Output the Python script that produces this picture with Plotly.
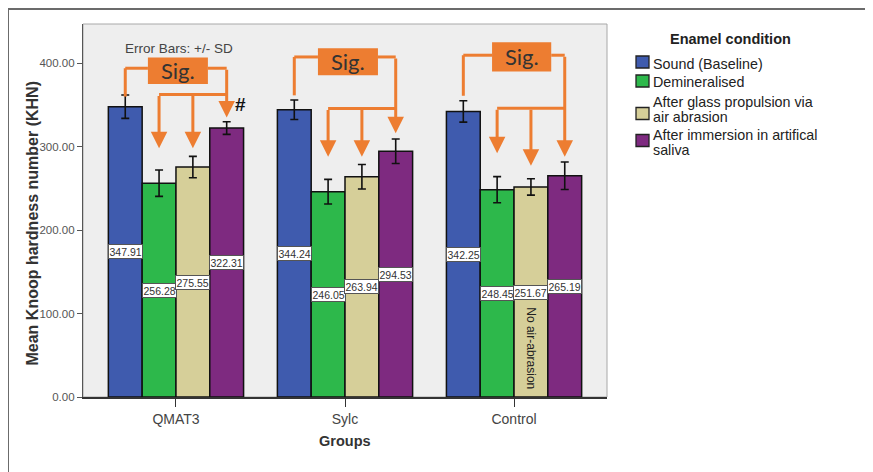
import plotly.graph_objects as go

# ---------------- data ----------------
groups = ["QMAT3", "Sylc", "Control"]
legend_labels = [
    ["Sound (Baseline)"],
    ["Demineralised"],
    ["After glass propulsion via", "air abrasion"],
    ["After immersion in artifical", "saliva"],
]
sound = [347.91, 344.24, 342.25]
demineralised = [256.28, 246.05, 248.45]
glass_propulsion = [275.55, 263.94, 251.67]
saliva = [322.31, 294.53, 265.19]
sound_sd = [14.0, 11.6, 12.8]
demineralised_sd = [15.8, 14.7, 15.6]
glass_propulsion_sd = [12.8, 14.7, 9.8]
saliva_sd = [7.6, 14.7, 16.5]
y_tick_vals = [0, 100, 200, 300, 400]

series = [sound, demineralised, glass_propulsion, saliva]
series_sd = [sound_sd, demineralised_sd, glass_propulsion_sd, saliva_sd]
colors = ["#3F5BAE", "#2DB84B", "#D6CF99", "#7E2A80"]
offsets = [-0.3, -0.1, 0.1, 0.3]

# ---------------- geometry helpers (page px; page body has 8px margin) ----------------
PAGE_W, PAGE_H = 873, 472
BODY = 8
FW, FH = PAGE_W - BODY, PAGE_H - BODY
L, R, T, B = 83, 607, 24, 397
W, H = R - L, B - T
YMAX = 447


def px(x):
    return (x - L) / W


def py(y):
    return (B - y) / H


fig = go.Figure()
for k in range(4):
    fig.add_trace(go.Bar(
        x=groups, y=series[k], name=" ".join(legend_labels[k]),
        marker=dict(color=colors[k], line=dict(color="#111111", width=1.5)),
        error_y=dict(type="data", array=series_sd[k], color="#111111",
                     thickness=1.6, width=4),
        showlegend=False,
    ))

shapes = []
annotations = []

# outer frame
shapes.append(dict(type="rect", xref="paper", yref="paper",
                   x0=px(8), x1=px(PAGE_W + 30), y0=py(PAGE_H + 30), y1=py(9),
                   line=dict(color="#6B6B6B", width=2), layer="below"))
# plot frame
shapes.append(dict(type="rect", xref="paper", yref="paper",
                   x0=0, x1=1, y0=0, y1=1,
                   line=dict(color="#A8A8A8", width=1), layer="below"))

# value labels at mid-bar
for i in range(len(groups)):
    for k in range(4):
        v = series[k][i]
        annotations.append(dict(
            x=i + offsets[k], y=v / 2, xref="x", yref="y",
            xanchor="center", yanchor="middle",
            text=f"{v:.2f}", showarrow=False,
            font=dict(family="Liberation Sans, Arial", size=10.5, color="#333333"),
            bgcolor="white", bordercolor="#555555", borderwidth=1, borderpad=0.5,
        ))

# significance annotations (decorations)
ORANGE = "#ED7D31"
sig_cfg = [
    dict(bx0=-0.166, bx1=0.189, by0=375, by1=407, conn=394, left_end=360,
         right_tip=335, hbar=362.5, tips=[298, 298]),
    dict(bx0=-0.160, bx1=0.195, by0=385.6, by1=418, conn=407.5, left_end=361.5,
         right_tip=316, hbar=345.7, tips=[288, 288]),
    dict(bx0=-0.130, bx1=0.220, by0=390, by1=425, conn=409.6, left_end=361,
         right_tip=288, hbar=346, tips=[292, 277]),
]
for i, c in enumerate(sig_cfg):
    ln = dict(color=ORANGE, width=3)
    xl, xr = i + offsets[0], i + offsets[3]
    shapes.append(dict(type="rect", xref="x", yref="y",
                       x0=i + c["bx0"], x1=i + c["bx1"], y0=c["by0"], y1=c["by1"],
                       fillcolor=ORANGE, line=dict(width=0), layer="above"))
    annotations.append(dict(x=i + (c["bx0"] + c["bx1"]) / 2, y=(c["by0"] + c["by1"]) / 2,
                            xref="x", yref="y", xanchor="center", yanchor="middle",
                            text="Sig.", showarrow=False,
                            font=dict(family="Lato, Open Sans", size=22, color="#333333")))
    shapes.append(dict(type="line", xref="x", yref="y", x0=xl, x1=i + c["bx0"],
                       y0=c["conn"], y1=c["conn"], line=ln, layer="above"))
    shapes.append(dict(type="line", xref="x", yref="y", x0=i + c["bx1"], x1=xr,
                       y0=c["conn"], y1=c["conn"], line=ln, layer="above"))
    shapes.append(dict(type="line", xref="x", yref="y", x0=xl, x1=xl,
                       y0=c["conn"], y1=c["left_end"], line=ln, layer="above"))
    shapes.append(dict(type="line", xref="x", yref="y", x0=i + offsets[1], x1=xr,
                       y0=c["hbar"], y1=c["hbar"], line=ln, layer="above"))
    arrows = [(xr, c["conn"], c["right_tip"]),
              (i + offsets[1], c["hbar"], c["tips"][0]),
              (i + offsets[2], c["hbar"], c["tips"][1])]
    for ax_, y_start, y_tip in arrows:
        annotations.append(dict(x=ax_, y=y_tip, ax=ax_, ay=y_start,
                                xref="x", yref="y", axref="x", ayref="y",
                                text="", showarrow=True, arrowhead=2,
                                arrowsize=1.1, arrowwidth=3, arrowcolor=ORANGE,
                                standoff=0))

# '#' marker
annotations.append(dict(x=0.38, y=350, xref="x", yref="y", text="<b>#</b>",
                        xanchor="center", yanchor="middle", showarrow=False,
                        font=dict(family="Liberation Sans, Arial", size=19, color="#111111")))
# error bar note
annotations.append(dict(x=0.02, y=418, xref="x", yref="y", text="Error Bars: +/- SD",
                        xanchor="center", yanchor="middle", showarrow=False,
                        font=dict(family="Liberation Sans, Arial", size=13.5, color="#444444")))
# no air-abrasion note
annotations.append(dict(x=2 + offsets[2], y=58.5, xref="x", yref="y",
                        xanchor="center", yanchor="middle",
                        text="No air-abrasion", textangle=90, showarrow=False,
                        font=dict(family="Liberation Sans, Arial", size=12, color="#222222")))

# axis titles
annotations.append(dict(x=px(31.5), y=py(224), xref="paper", yref="paper",
                        xanchor="center", yanchor="middle",
                        text="<b>Mean Knoop hardness number (KHN)</b>", textangle=-90,
                        showarrow=False,
                        font=dict(family="Liberation Sans, Arial", size=16, color="#333333")))
annotations.append(dict(x=px(345), y=py(441), xref="paper", yref="paper",
                        xanchor="center", yanchor="middle",
                        text="<b>Groups</b>", showarrow=False,
                        font=dict(family="Liberation Sans, Arial", size=14.5, color="#333333")))

# manual legend
annotations.append(dict(x=px(730), y=py(39), xref="paper", yref="paper",
                        xanchor="center", yanchor="middle",
                        text="<b>Enamel condition</b>", showarrow=False,
                        font=dict(family="Liberation Sans, Arial", size=14.5, color="#222222")))
square_centers = [62, 81, 113.5, 140.5]
text_lines_y = [[64.3], [82.3], [101.7, 116.7], [135, 150]]
for k in range(4):
    yc = square_centers[k]
    shapes.append(dict(type="rect", xref="paper", yref="paper",
                       x0=px(636), x1=px(649), y0=py(yc + 6), y1=py(yc - 6),
                       fillcolor=colors[k], line=dict(color="#222222", width=1.3)))
    for line_txt, ly in zip(legend_labels[k], text_lines_y[k]):
        annotations.append(dict(x=px(651), y=py(ly), xref="paper", yref="paper",
                                xanchor="left", yanchor="middle", text=line_txt,
                                showarrow=False,
                                font=dict(family="Liberation Sans, Arial", size=14.3,
                                          color="#222222")))

fig.update_layout(
    width=FW, height=FH,
    margin=dict(l=L - BODY, r=PAGE_W - R, t=T - BODY, b=PAGE_H - B, autoexpand=False),
    paper_bgcolor="white", plot_bgcolor="#EEEEEE",
    barmode="group", bargap=0.2, bargroupgap=0,
    showlegend=False,
    shapes=shapes, annotations=annotations,
    font=dict(family="Liberation Sans, Arial", color="#444444"),
    xaxis=dict(type="category", range=[-0.55, 2.55], showgrid=False, zeroline=False,
               showline=True, linecolor="#333333", linewidth=1.5,
               ticks="outside", ticklen=8, tickcolor="#333333", tickwidth=1.2,
               tickfont=dict(size=14, color="#444444")),
    yaxis=dict(range=[0, YMAX], tickvals=y_tick_vals, tickformat=".2f",
               showgrid=False, zeroline=False, showline=True, linecolor="#555555",
               linewidth=1.2, ticks="outside", ticklen=5, tickcolor="#555555",
               tickfont=dict(size=11.5, color="#555555")),
)

fig.write_html("out.html")
